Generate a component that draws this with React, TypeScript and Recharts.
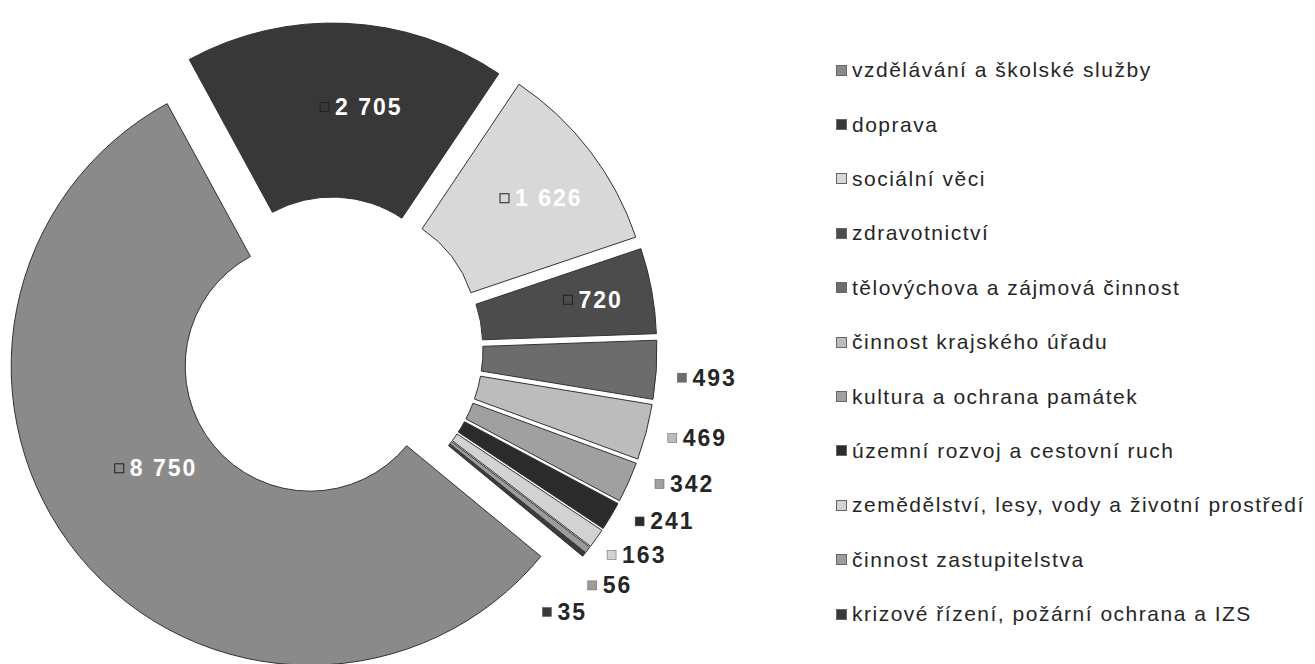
import React from 'react';
import { PieChart, Pie, Cell, Legend } from 'recharts';

const categories = [
  'vzdělávání a školské služby',
  'doprava',
  'sociální věci',
  'zdravotnictví',
  'tělovýchova a zájmová činnost',
  'činnost krajského úřadu',
  'kultura a ochrana památek',
  'územní rozvoj a cestovní ruch',
  'zemědělství, lesy, vody a životní prostředí',
  'činnost zastupitelstva',
  'krizové řízení, požární ochrana a IZS',
];
const values = [8750, 2705, 1626, 720, 493, 469, 342, 241, 163, 56, 35];
const valueLabels = ['8 750', '2 705', '1 626', '720', '493', '469', '342', '241', '163', '56', '35'];

const colors = ['#8a8a8a', '#383838', '#d8d8d8', '#4c4c4c', '#6c6c6c', '#bcbcbc', '#a0a0a0', '#2b2b2b', '#d2d2d2', '#9c9c9c', '#3a3a3a'];
const insideLabel = [true, true, true, true, false, false, false, false, false, false, false];
// label placement (radius from label origin, angular shift clockwise in degrees)
const labelRadius = [230, 250, 243, 254, 362, 361, 362, 359, 352, 355, 341];
const labelAngleShift = [9.6, -2.7, -4.4, -3.7, -1.4, -2.8, -4.6, -4.6, -2.3, 1.0, 8.3];

const data = categories.map((name, i) => ({ name, value: values[i] }));

const W = 1315;
const H = 664;
const CX = 331;
const CY = 349;
const LABEL_CX = 331;
const LABEL_CY = 357;
const OUTER = 299;
const INNER = 125;
const EXPLODE = 27;
const START_ANGLE = -39.5;
const LABEL_START = -40.5;
const RAD = Math.PI / 180;
const FONT = "'Liberation Sans', Arial, sans-serif";

const total = values.reduce((a, b) => a + b, 0);
const cumBefore = values.map((_, i) => values.slice(0, i).reduce((a, b) => a + b, 0));
const midAngles = values.map((v, i) => START_ANGLE - ((cumBefore[i] + v / 2) / total) * 360);
const labelMid = values.map((v, i) => LABEL_START - ((cumBefore[i] + v / 2) / total) * 360);

const makeLabel = (k: number) => (props: any) => {
  if (props.index !== k) return null;
  const a = (labelMid[k] - labelAngleShift[k]) * RAD;
  const x = LABEL_CX + labelRadius[k] * Math.cos(a);
  const y = LABEL_CY - labelRadius[k] * Math.sin(a);
  const inside = insideLabel[k];
  return (
    <g>
      <rect x={x - 15} y={y - 4.5} width={9} height={9} fill={colors[k]} stroke={inside ? '#222' : '#555'} strokeWidth={inside ? 1 : 0.5} />
      <text
        x={x}
        y={y}
        dominantBaseline="central"
        textAnchor="start"
        fontFamily={FONT}
        fontWeight="bold"
        fontSize={23}
        letterSpacing={2}
        fill={inside ? '#ffffff' : '#262626'}
      >
        {valueLabels[k]}
      </text>
    </g>
  );
};

const renderLegend = () => (
  <div style={{ fontFamily: FONT, fontSize: 21, letterSpacing: 1.5, color: '#262626' }}>
    {categories.map((c, i) => (
      <div key={c} style={{ height: 54.4, display: 'flex', alignItems: 'center', whiteSpace: 'nowrap' }}>
        <span
          style={{
            display: 'inline-block',
            width: 9,
            height: 9,
            background: colors[i],
            marginRight: 5,
            border: '0.5px solid #666',
          }}
        />
        <span>{c}</span>
      </div>
    ))}
  </div>
);

export default function App() {
  return (
    <div style={{ position: 'absolute', left: 0, top: 0, width: W, height: H, background: '#fff' }}>
      <PieChart width={W} height={H} margin={{ top: 0, right: 0, bottom: 0, left: 0 }}>
        {values.map((_, k) => {
          const m = midAngles[k] * RAD;
          const cx = CX + EXPLODE * Math.cos(m);
          const cy = CY - EXPLODE * Math.sin(m);
          return (
            <Pie
              key={k}
              data={data}
              dataKey="value"
              nameKey="name"
              cx={cx}
              cy={cy}
              innerRadius={INNER}
              outerRadius={OUTER}
              startAngle={START_ANGLE}
              endAngle={START_ANGLE - 360}
              isAnimationActive={false}
              label={makeLabel(k)}
              labelLine={false}
              legendType="none"
            >
              {data.map((d, i) => (
                <Cell
                  key={d.name}
                  fill={i === k ? colors[i] : 'none'}
                  stroke={i === k ? '#333333' : 'none'}
                  strokeWidth={1}
                />
              ))}
            </Pie>
          );
        })}
        <Legend
          layout="vertical"
          align="right"
          verticalAlign="top"
          content={renderLegend}
          wrapperStyle={{ position: 'absolute', left: 836, top: 43, width: 479 }}
        />
      </PieChart>
    </div>
  );
}
